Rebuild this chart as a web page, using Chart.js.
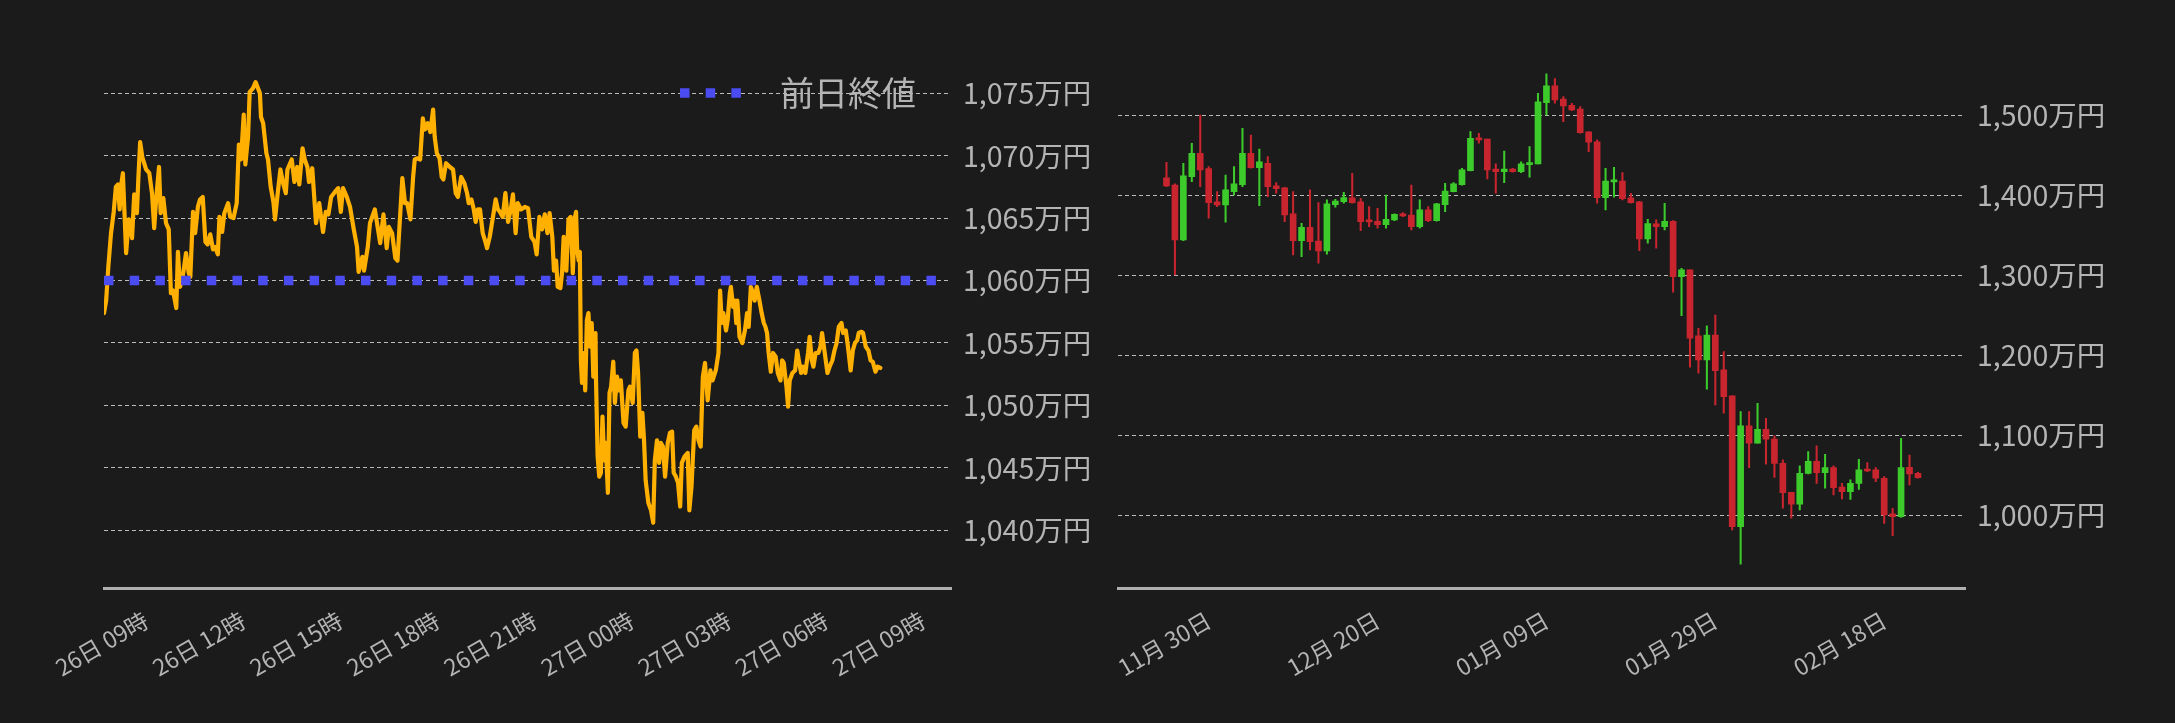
<!DOCTYPE html>
<html><head><meta charset="utf-8">
<script src="https://cdn.jsdelivr.net/npm/chart.js@4.4.1/dist/chart.umd.min.js"></script>
<style>
html,body{margin:0;padding:0;background:#1b1b1b;width:2175px;height:723px;overflow:hidden}
#c1{position:absolute;left:0;top:0}
#c2{position:absolute;left:1100px;top:0}
</style></head><body>
<canvas id="c1" width="1100" height="723"></canvas>
<canvas id="c2" width="1075" height="723"></canvas>
<script>
// ---------- intraday (left) : minutes since 26日 00:00 ----------
const intradayMinutes = [
462,466,470,475,480,484,488,491,494,497,500,503,508,511,514,518,523,526,529,533,
540,546,551,555,559,564,567,572,577,582,586,590,596,599,603,608,614,619,622,627,
631,636,640,645,650,654,659,664,668,673,676,681,685,692,696,702,708,712,716,721,
724,729,732,738,743,751,753,757,763,766,771,776,779,784,789,794,799,802,810,815,
820,824,830,834,839,842,848,855,861,868,873,878,883,890,896,901,905,912,918,925,
931,934,941,944,951,955,964,974,980,986,990,996,1002,1006,1009,1015,1020,1024,1030,1035,
1038,1043,1048,1053,1057,1062,1067,1072,1075,1079,1084,1088,1091,1096,1103,1109,1114,1118,1124,1130,
1135,1138,1143,1147,1151,1155,1159,1164,1169,1172,1177,1183,1188,1192,1196,1201,1206,1211,1216,1220,
1225,1229,1235,1242,1248,1254,1260,1264,1269,1274,1279,1284,1288,1293,1296,1300,1303,1308,1311,1314,
1319,1323,1327,1331,1335,1337,1339,1342,1344,1346,1348,1351,1354,1357,1360,1363,1366,1369,1373,1374,
1377,1380,1383,1386,1389,1392,1396,1399,1402,1406,1409,1413,1417,1420,1425,1429,1434,1437,1442,1446,
1449,1452,1456,1460,1463,1466,1471,1476,1480,1483,1487,1491,1494,1498,1502,1507,1511,1515,1518,1522,
1526,1530,1533,1538,1544,1547,1551,1556,1560,1564,1568,1572,1576,1581,1586,1590,1596,1601,1604,1607,
1610,1615,1618,1622,1624,1628,1631,1634,1636,1640,1645,1650,1654,1657,1661,1665,1668,1672,1677,1681,
1685,1688,1691,1694,1698,1702,1707,1711,1716,1719,1722,1727,1730,1733,1738,1743,1747,1750,1754,1758,
1762,1767,1770,1774,1777,1781,1786,1790,1793,1798,1803,1807,1812,1816,1820,1824,1829,1832,1837,1841,
1846,1850,1854,1858,1861,1866,1869,1874,1879,1883,1887,1892,1896,1901
];
const intradayPrices = [
1057.4,1058.4,1061.1,1063.8,1065.5,1067.5,1067.7,1065.7,1067.7,1068.6,1065.4,1062.2,1064.9,1064.6,1063.4,1066.9,1065.4,1068.5,1071.1,1069.9,
1068.9,1068.6,1067.0,1064.2,1066.7,1069.1,1065.4,1066.6,1064.6,1064.1,1059.0,1059.2,1057.8,1062.3,1059.5,1060.3,1062.2,1060.6,1060.3,1065.5,
1063.8,1065.9,1066.5,1066.7,1063.1,1062.9,1063.7,1062.5,1062.7,1062.1,1065.1,1063.9,1065.4,1066.2,1065.1,1065.0,1066.2,1070.9,1069.7,1073.3,
1069.3,1071.5,1075.1,1075.4,1075.9,1075.0,1073.1,1072.6,1070.2,1069.7,1067.5,1066.3,1064.9,1067.0,1068.9,1067.8,1067.0,1068.9,1069.7,1067.9,
1069.1,1067.7,1070.6,1069.7,1069.1,1067.9,1069.0,1064.6,1066.2,1063.9,1065.5,1065.3,1066.7,1067.1,1067.4,1065.5,1067.4,1066.7,1065.9,1064.1,
1062.7,1060.7,1061.9,1060.8,1062.7,1064.6,1065.7,1063.0,1065.3,1062.6,1064.3,1063.8,1061.8,1061.6,1063.8,1068.2,1066.2,1066.2,1064.9,1068.3,
1069.7,1069.8,1069.7,1073.0,1072.1,1072.6,1071.9,1073.7,1071.5,1070.2,1069.8,1068.3,1068.1,1069.4,1069.1,1068.9,1067.0,1066.7,1068.3,1067.8,
1067.0,1066.2,1066.5,1065.8,1064.7,1065.7,1065.7,1063.8,1063.1,1062.6,1063.5,1065.1,1066.5,1065.7,1065.5,1065.1,1067.0,1064.7,1065.7,1066.9,
1063.8,1066.2,1065.7,1065.9,1065.8,1063.5,1063.1,1062.1,1065.1,1064.1,1065.3,1063.8,1065.4,1063.5,1060.8,1061.6,1059.5,1059.4,1060.6,1063.5,
1060.8,1064.9,1065.1,1060.6,1065.1,1065.5,1062.5,1061.6,1062.3,1053.6,1051.8,1054.2,1051.2,1056.8,1057.4,1054.7,1056.6,1052.3,1055.8,1052.0,
1045.9,1044.3,1044.6,1049.1,1045.6,1047.0,1043.0,1051.0,1051.5,1053.5,1050.2,1052.3,1051.2,1052.0,1048.6,1048.3,1051.2,1051.5,1050.2,1054.2,
1054.4,1052.6,1047.5,1049.4,1047.2,1044.0,1042.2,1041.6,1040.6,1045.6,1047.2,1045.4,1047.0,1046.7,1044.3,1047.0,1047.8,1047.9,1044.6,1044.3,
1043.8,1041.9,1045.4,1045.9,1046.2,1041.6,1043.5,1048.0,1048.3,1047.2,1046.7,1052.3,1053.4,1050.4,1052.8,1052.0,1052.8,1054.2,1059.2,1056.6,
1057.4,1056.0,1056.8,1059.0,1059.5,1057.9,1058.4,1056.6,1058.4,1055.5,1055.0,1056.0,1057.4,1056.3,1059.5,1059.0,1058.4,1059.5,1058.4,1057.4,
1056.6,1056.3,1055.8,1054.2,1052.7,1054.2,1053.9,1052.6,1052.0,1053.6,1053.4,1051.5,1049.9,1052.0,1052.6,1052.8,1054.4,1053.6,1052.6,1053.1,
1052.6,1054.2,1055.5,1053.6,1053.1,1054.2,1054.2,1054.7,1055.8,1054.2,1052.6,1053.1,1053.6,1054.4,1055.0,1056.3,1056.6,1055.8,1056.0,1054.7,
1052.8,1054.4,1055.0,1055.2,1055.8,1055.9,1055.8,1054.7,1054.4,1053.6,1053.5,1052.7,1053.1,1053.0
];
const prevClose = 1060;
const prevCloseLabel = '前日終値';
const intradayTickMinutes = [540,720,900,1080,1260,1440,1620,1800,1980];
const intradayTickLabels = ['26日 09時','26日 12時','26日 15時','26日 18時','26日 21時','27日 00時','27日 03時','27日 06時','27日 09時'];
const intradayYTicks = [1040,1045,1050,1055,1060,1065,1070,1075];
const intradayXRange = [462, 2032];
const intradayYRange = [1035.35, 1078.31];

// ---------- daily candles (right) ----------
const dailyOpen = [
1421.7,1412.9,1344.2,1423.3,1452.5,1433.3,1391.7,1387.9,1404.6,1413.3,
1452.5,1434.6,1440.0,1411.7,1409.2,1376.7,1343.3,1360.0,1342.9,1330.4,
1388.3,1392.1,1396.7,1391.7,1367.9,1367.5,1363.3,1369.2,1376.7,1375.4,
1360.8,1381.7,1368.3,1388.3,1404.6,1413.3,1430.8,1471.7,1470.4,1432.9,
1429.6,1432.9,1429.6,1438.3,1439.2,1515.8,1536.7,1520.4,1512.5,1507.9,
1479.2,1466.7,1397.1,1416.7,1417.9,1396.7,1391.7,1345.4,1364.2,1360.8,
1367.5,1298.3,1306.7,1224.2,1194.2,1225.4,1181.7,1149.2,985.8,1111.7,
1090.0,1107.5,1095.4,1065.0,1028.8,1013.8,1052.5,1067.5,1053.3,1059.6,
1035.4,1029.6,1040.0,1056.7,1056.7,1046.3,1001.7,998.3,1060.0,1052.5
];
const dailyHigh = [
1441.3,1414.2,1440.0,1465.0,1500.4,1435.8,1404.6,1425.4,1435.8,1483.8,
1475.4,1457.9,1448.3,1415.8,1410.0,1404.6,1365.0,1406.7,1390.8,1394.2,
1395.0,1403.8,1427.5,1396.3,1385.8,1383.8,1400.4,1376.7,1378.3,1412.9,
1394.2,1385.8,1390.0,1415.0,1415.8,1433.8,1479.6,1477.5,1470.4,1439.2,
1455.4,1433.8,1441.7,1460.8,1527.5,1551.7,1545.8,1523.3,1515.0,1510.8,
1479.2,1469.2,1433.8,1435.0,1428.3,1402.5,1392.5,1370.0,1369.2,1390.0,
1368.3,1308.8,1306.7,1233.8,1236.7,1250.4,1204.6,1149.2,1129.6,1129.6,
1140.0,1121.3,1099.2,1069.2,1028.8,1061.7,1079.6,1086.7,1076.3,1061.7,
1040.0,1044.2,1070.0,1065.8,1059.6,1048.3,1008.8,1096.3,1075.4,1053.8
];
const dailyLow = [
1410.8,1300.4,1343.3,1417.1,1410.8,1371.3,1385.8,1366.3,1400.4,1410.8,
1433.8,1387.1,1398.3,1402.5,1367.1,1325.4,1323.3,1331.7,1315.0,1326.3,
1385.0,1390.0,1390.0,1355.8,1360.8,1358.8,1358.8,1368.3,1373.3,1356.7,
1358.8,1367.1,1367.5,1379.6,1404.2,1412.5,1430.4,1465.0,1420.4,1402.5,
1415.8,1428.8,1428.3,1422.5,1439.2,1500.4,1515.0,1492.1,1505.8,1477.5,
1454.6,1390.0,1381.7,1397.5,1394.2,1390.0,1330.8,1340.0,1333.8,1356.7,
1278.8,1249.6,1185.0,1177.5,1157.5,1137.9,1127.5,981.7,938.8,1059.6,
1090.0,1063.8,1047.5,1008.8,996.3,1006.7,1051.7,1040.0,1033.8,1025.4,
1020.4,1020.0,1032.5,1054.6,1042.1,990.0,974.6,997.5,1037.9,1046.3
];
const dailyClose = [
1411.7,1344.2,1424.2,1452.5,1431.7,1390.8,1387.9,1406.7,1414.2,1452.5,
1434.6,1441.7,1410.8,1408.3,1375.4,1343.3,1360.0,1342.1,1330.4,1389.2,
1392.9,1397.1,1390.8,1367.1,1366.7,1363.3,1370.0,1376.3,1374.2,1360.8,
1381.7,1368.3,1389.2,1405.4,1414.2,1431.7,1471.3,1469.2,1431.7,1429.6,
1432.9,1429.6,1439.2,1440.8,1516.7,1536.7,1519.2,1511.7,1506.7,1478.3,
1466.3,1397.1,1417.9,1417.9,1395.8,1390.8,1345.4,1364.6,1360.8,1367.5,
1298.3,1306.7,1221.3,1194.2,1225.4,1180.8,1148.3,985.8,1111.7,1090.0,
1107.5,1095.0,1065.0,1028.3,1013.8,1052.5,1067.5,1053.3,1059.6,1034.6,
1029.6,1040.0,1056.7,1055.4,1046.3,1000.4,998.3,1059.6,1051.7,1047.1
];
const dailyTickIndex = [5,25,45,65,85];
const dailyTickLabels = ['11月 30日','12月 20日','01月 09日','01月 29日','02月 18日'];
const dailyYTicks = [1000,1100,1200,1300,1400,1500];
const dailyXRange = [-5.74, 94.57];
const dailyYRange = [908.75, 1579.1];

// ---------- styling ----------
const FONT = '"Noto Sans CJK JP", "Noto Sans", sans-serif';
const TEXT = '#b4b4b4';
const GRID = 'rgba(215,215,215,0.85)';
const UP = '#3ccb2b';
const DOWN = '#c9252f';
const yLabel = v => v.toLocaleString('en-US') + '万円';

Chart.defaults.font.family = FONT;
Chart.defaults.color = TEXT;
Chart.defaults.animation = false;

const refLegend = {
  id: 'refLegend',
  afterDatasetsDraw(chart) {
    const ds = chart.data.datasets.find(d => d.showInLegend);
    if (!ds) return;
    const ctx = chart.ctx, a = chart.chartArea;
    ctx.save();
    ctx.font = '34px ' + FONT;
    ctx.fillStyle = TEXT;
    ctx.textAlign = 'right';
    ctx.textBaseline = 'middle';
    const xr = a.right - 35, y = a.top + 41;
    ctx.fillText(ds.label, xr, y);
    const tw = ctx.measureText(ds.label).width;
    ctx.strokeStyle = ds.borderColor;
    ctx.lineWidth = ds.borderWidth;
    ctx.setLineDash(ds.borderDash);
    ctx.beginPath();
    ctx.moveTo(xr - tw - 38 - 62, y);
    ctx.lineTo(xr - tw - 38, y);
    ctx.stroke();
    ctx.restore();
  }
};

const xTickFont = { size: 23, family: FONT };
const yTickFont = { size: 28.5, family: FONT };
const ROT = 30;

// left chart
new Chart(document.getElementById('c1'), {
  type: 'line',
  data: {
    datasets: [
      {
        label: prevCloseLabel, showInLegend: true, order: 0,
        data: [{x: intradayXRange[0], y: prevClose}, {x: intradayXRange[1], y: prevClose}],
        borderColor: '#4b4bf2', borderWidth: 9.5, borderDash: [9.5, 16.2],
        borderCapStyle: 'butt', pointRadius: 0
      },
      {
        label: 'price', order: 1,
        data: intradayPrices.map((p, i) => ({x: intradayMinutes[i], y: p})),
        borderColor: '#ffb000', borderWidth: 4.2, pointRadius: 0,
        borderJoinStyle: 'round', borderCapStyle: 'round', tension: 0
      }
    ]
  },
  options: {
    responsive: false,
    layout: { padding: { left: 104, top: 52, right: 0, bottom: 0 } },
    plugins: { legend: { display: false }, tooltip: { enabled: false } },
    scales: {
      x: {
        type: 'linear', min: intradayXRange[0], max: intradayXRange[1],
        afterBuildTicks: s => { s.ticks = intradayTickMinutes.map(v => ({value: v})); },
        afterFit: s => { s.height = 134.7; },
        grid: { display: false },
        border: { display: true, color: '#b0b0b0', width: 3 },
        ticks: {
          autoSkip: false, minRotation: ROT, maxRotation: ROT, padding: 10,
          font: xTickFont, color: TEXT,
          callback: v => intradayTickLabels[intradayTickMinutes.indexOf(v)]
        }
      },
      y: {
        position: 'right', min: intradayYRange[0], max: intradayYRange[1],
        afterBuildTicks: s => { s.ticks = intradayYTicks.map(v => ({value: v})); },
        afterFit: s => { s.width = 149; },
        grid: { color: GRID, lineWidth: 1, drawTicks: false },
        border: { display: false, dash: [4, 3] },
        ticks: { padding: 12, font: yTickFont, color: TEXT, callback: yLabel }
      }
    }
  },
  plugins: [refLegend]
});

// right chart
const upDown = dailyClose.map((c, i) => c >= dailyOpen[i] ? UP : DOWN);
new Chart(document.getElementById('c2'), {
  type: 'bar',
  data: {
    datasets: [
      {
        label: 'body', order: 0, grouped: false,
        data: dailyOpen.map((o, i) => ({x: i, y: [o, dailyClose[i]]})),
        backgroundColor: upDown, borderWidth: 0, barThickness: 6, minBarLength: 2
      },
      {
        label: 'wick', order: 1, grouped: false,
        data: dailyLow.map((l, i) => ({x: i, y: [l, dailyHigh[i]]})),
        backgroundColor: upDown, borderWidth: 0, barThickness: 1.4
      }
    ]
  },
  options: {
    responsive: false,
    layout: { padding: { left: 18, top: 52, right: 0, bottom: 0 } },
    plugins: { legend: { display: false }, tooltip: { enabled: false } },
    scales: {
      x: {
        type: 'linear', offset: false, min: dailyXRange[0], max: dailyXRange[1],
        afterBuildTicks: s => { s.ticks = dailyTickIndex.map(v => ({value: v})); },
        afterFit: s => { s.height = 134.7; },
        grid: { display: false },
        border: { display: true, color: '#b0b0b0', width: 3 },
        ticks: {
          autoSkip: false, minRotation: ROT, maxRotation: ROT, padding: 10,
          font: xTickFont, color: TEXT,
          callback: v => dailyTickLabels[dailyTickIndex.indexOf(v)]
        }
      },
      y: {
        position: 'right', min: dailyYRange[0], max: dailyYRange[1],
        afterBuildTicks: s => { s.ticks = dailyYTicks.map(v => ({value: v})); },
        afterFit: s => { s.width = 210; },
        grid: { color: GRID, lineWidth: 1, drawTicks: false },
        border: { display: false, dash: [4, 3] },
        ticks: { padding: 12, font: yTickFont, color: TEXT, callback: yLabel }
      }
    }
  }
});
</script>
</body></html>
